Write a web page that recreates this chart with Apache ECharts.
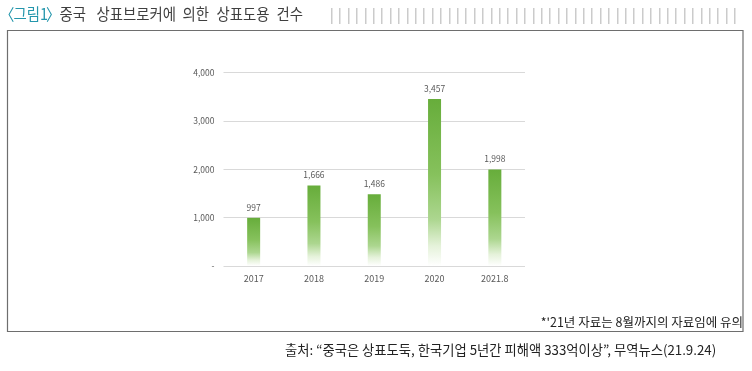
<!DOCTYPE html>
<html>
<head>
<meta charset="utf-8">
<script src="https://cdn.jsdelivr.net/npm/echarts@6/dist/echarts.min.js"></script>
<style>
html,body{margin:0;padding:0;background:#fff;}
#c{width:752px;height:371px;}
</style>
</head>
<body>
<div id="c"></div>
<script>
const categories = ['2017', '2018', '2019', '2020', '2021.8'];
const values = [997, 1666, 1486, 3457, 1998];
const yTicks = [0, 1000, 2000, 3000, 4000];

const chart = echarts.init(document.getElementById('c'), null, {renderer: 'canvas'});

const stripes = [];
for (let x = 331; x <= 742; x += 8.4) {
  stripes.push({
    type: 'rect', silent: true,
    shape: {x: Math.round(x), y: 8, width: 1.5, height: 16},
    style: {fill: '#cbcbcb'}
  });
}

const barGrad = new echarts.graphic.LinearGradient(0, 0, 0, 1, [
  {offset: 0, color: '#67ad3b'},
  {offset: 0.45, color: '#86c15c'},
  {offset: 0.72, color: '#acd68f'},
  {offset: 0.88, color: '#e5f2da'},
  {offset: 1, color: '#ffffff'}
]);

const font = '"Noto Sans CJK KR", "Noto Sans", sans-serif';
const teal = '#2496ac';
const titleGray = '#3f3f3f';

// title pieces (condensed look via horizontal scale)
const titleParts = [
  {t: '〈', x: 0, c: teal},
  {t: '그림1', x: 13.4, c: teal},
  {t: '〉', x: 46, c: teal},
  {t: '중국', x: 59.4, c: titleGray},
  {t: '상표브로커에', x: 96.4, c: titleGray},
  {t: '의한', x: 182.5, c: titleGray},
  {t: '상표도용', x: 216.5, c: titleGray},
  {t: '건수', x: 276.5, c: titleGray}
];
const titleEls = titleParts.map(p => ({
  type: 'text', x: p.x, y: 6, scaleX: 0.9, silent: true,
  style: {text: p.t, fill: p.c, fontSize: 16, fontFamily: font}
}));

chart.setOption({
  animation: false,
  textStyle: {fontFamily: font},
  grid: {left: 223.5, right: 227, top: 72.7, bottom: 105, containLabel: false},
  xAxis: {
    type: 'category',
    data: categories,
    axisLine: {show: false},
    axisTick: {show: false},
    axisLabel: {color: '#595959', fontSize: 9, margin: 8, fontFamily: font}
  },
  yAxis: {
    type: 'value',
    min: yTicks[0], max: yTicks[yTicks.length - 1], interval: 1000,
    axisLine: {show: false},
    axisTick: {show: false},
    splitLine: {lineStyle: {color: '#d9d9d9', width: 1}},
    axisLabel: {
      color: '#595959', fontSize: 8.5, margin: 9, fontFamily: font,
      formatter: v => v === 0 ? '-' : v.toLocaleString('en-US')
    }
  },
  series: [{
    type: 'bar',
    data: values,
    barWidth: 13,
    itemStyle: {color: barGrad},
    label: {
      show: true, position: 'top', distance: 6,
      color: '#595959', fontSize: 8.5, fontFamily: font,
      formatter: p => p.value.toLocaleString('en-US')
    }
  }],
  graphic: [
    {type: 'group', children: titleEls},
    {type: 'group', children: stripes},
    {
      type: 'rect', silent: true, z: -1,
      shape: {x: 7.5, y: 30.5, width: 735.5, height: 301},
      style: {fill: 'none', stroke: '#6e6e6e', lineWidth: 1.2}
    },
    {
      type: 'text', right: 9, top: 316,
      style: {text: "*'21년 자료는 8월까지의 자료임에 유의", fill: '#222', fontSize: 12.5, fontFamily: font}
    },
    {
      type: 'text', left: 285, top: 343,
      style: {text: '출처: “중국은 상표도둑, 한국기업 5년간 피해액 333억이상”, 무역뉴스(21.9.24)', fill: '#222', fontSize: 13.3, fontFamily: font}
    }
  ]
});
</script>
</body>
</html>
